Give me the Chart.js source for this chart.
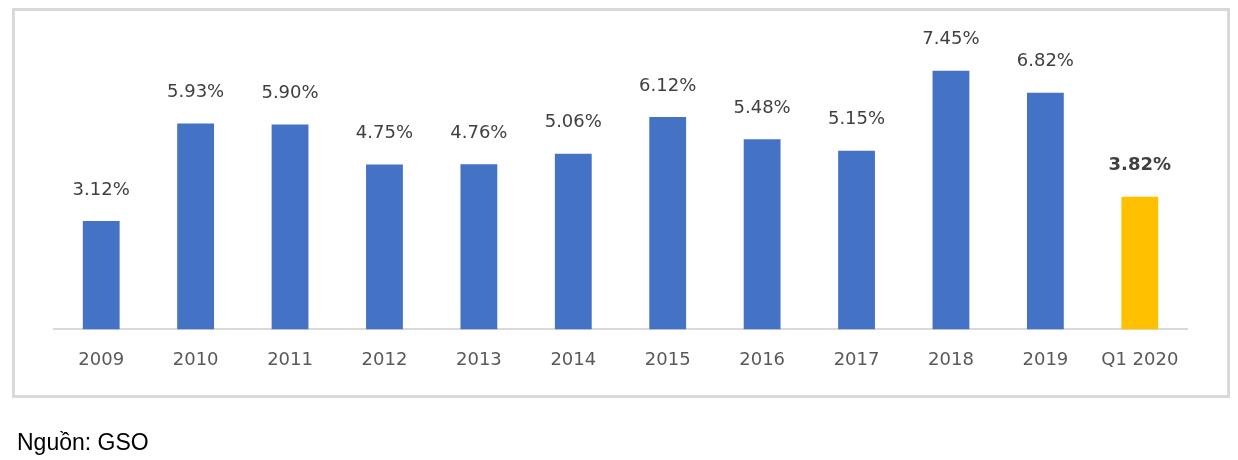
<!DOCTYPE html>
<html>
<head>
<meta charset="utf-8">
<script src="https://cdn.jsdelivr.net/npm/chart.js@4"></script>
<style>
  html, body { margin: 0; padding: 0; background: #fff; }
  body { width: 1238px; height: 460px; position: relative; overflow: hidden; }
  #frame {
    position: absolute; left: 12px; top: 8px; width: 1212px; height: 384px;
    border: 3px solid #d9d9d9;
  }
  #chart { position: absolute; left: 0; top: 0; }
  #source {
    position: absolute; left: 17px; top: 429px; margin: 0;
    font-family: "Liberation Sans", Arial, sans-serif; font-size: 23px; color: #000;
  }
</style>
</head>
<body>
<div id="frame"></div>
<canvas id="chart" width="1238" height="460"></canvas>
<p id="source">Nguồn: GSO</p>
<script>
const years = ['2009', '2010', '2011', '2012', '2013', '2014', '2015', '2016', '2017', '2018', '2019', 'Q1 2020']
const growth = [3.12, 5.93, 5.90, 4.75, 4.76, 5.06, 6.12, 5.48, 5.15, 7.45, 6.82, 3.82]

const blue = '#4472C4'
const gold = '#FFC000'
const last = years.length - 1

// value labels above each bar, last one in bold
const valueLabels = {
  id: 'valueLabels',
  afterDatasetsDraw(chart) {
    const ctx = chart.ctx
    const meta = chart.getDatasetMeta(0)
    ctx.save()
    ctx.textAlign = 'center'
    ctx.textBaseline = 'middle'
    ctx.fillStyle = '#404040'
    meta.data.forEach((bar, i) => {
      const v = chart.data.datasets[0].data[i]
      ctx.font = (i === last ? 'bold ' : '') + '18px "DejaVu Sans"'
      ctx.fillText(v.toFixed(2) + '%', bar.x, bar.y - 31)
    })
    ctx.restore()
  },
}

new Chart(document.getElementById('chart'), {
  type: 'bar',
  data: {
    labels: years,
    datasets: [
      {
        data: growth,
        backgroundColor: years.map((y, i) => (i === last ? gold : blue)),
        barPercentage: 0.39,
        categoryPercentage: 1,
      },
    ],
  },
  options: {
    responsive: false,
    animation: false,
    layout: { padding: { left: 54, right: 51, top: 17, bottom: 77 } },
    plugins: { legend: { display: false }, tooltip: { enabled: false } },
    scales: {
      x: {
        grid: { display: false },
        border: { color: '#d9d9d9', width: 2 },
        ticks: {
          color: '#595959',
          padding: 12,
          maxRotation: 0,
          autoSkip: false,
          font: { family: 'DejaVu Sans', size: 18 },
        },
      },
      y: {
        display: false,
        min: 0,
        max: 9,
      },
    },
  },
  plugins: [valueLabels],
})
</script>
</body>
</html>
